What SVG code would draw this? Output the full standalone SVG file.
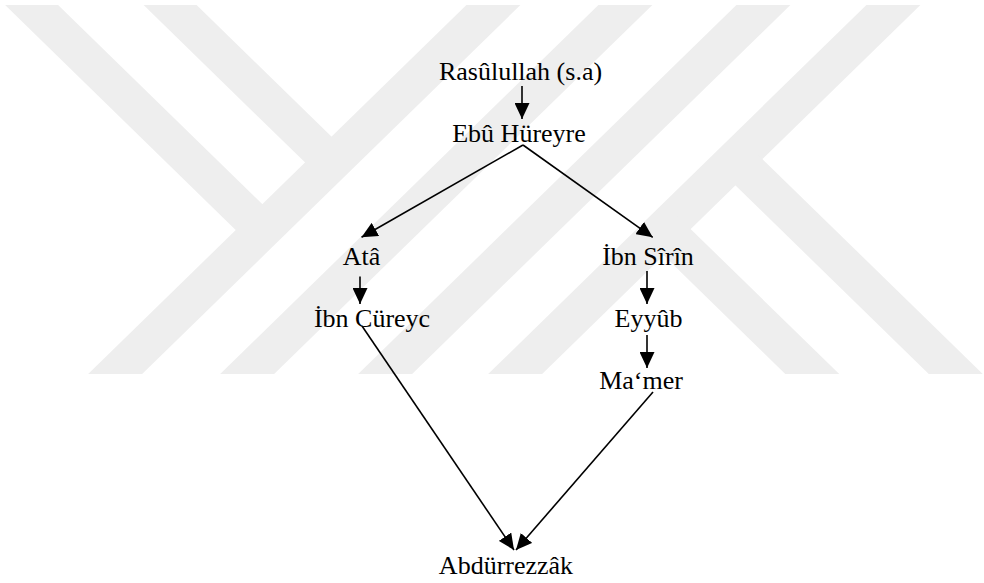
<svg xmlns="http://www.w3.org/2000/svg" width="984" height="583" viewBox="0 0 984 583">
  <style>
    .wm { fill: #eeeeee; stroke: none; }
    .lbl { font-family: "Liberation Serif", "Times New Roman", serif; font-size: 26px; fill: #000; text-anchor: middle; }
    .edge { stroke: #000; stroke-width: 1.6; fill: none; marker-end: url(#arrow); }
  </style>
  <defs>
    <marker id="arrow" markerUnits="userSpaceOnUse" markerWidth="16" markerHeight="15" viewBox="0 0 16 15" refX="16" refY="7.5" orient="auto">
      <path d="M0,0 L16,7.5 L0,15 z" fill="#000"/>
    </marker>
  </defs>
  <rect width="984" height="583" fill="#ffffff"/>
  <g id="watermark">
    <polygon class="wm" points="466.4,5 520.4,5 142.15,374 88.15,374"/>
    <polygon class="wm" points="598.4,5 652.4,5 274.15,374 220.15,374"/>
    <polygon class="wm" points="736.4,5 790.4,5 412.15,374 358.15,374"/>
    <polygon class="wm" points="866.4,5 920.4,5 542.15,374 488.15,374"/>
    <polygon class="wm" points="5.1,5 58.1,5 275.75,217.3 249.25,243.2"/>
    <polygon class="wm" points="143.6,5 196.6,5 345,149.8 318.5,175.6"/>
    <polygon class="wm" points="677.2,215.9 839.25,374 785.25,374 650.2,242.2"/>
    <polygon class="wm" points="748.95,145.9 982.75,374 928.75,374 721.95,172.2"/>
  </g>
  <g id="connectors">
    <line class="edge" x1="522" y1="86" x2="522" y2="119"/>
    <line class="edge" x1="523" y1="145" x2="361.5" y2="237.3"/>
    <line class="edge" x1="523" y1="145" x2="652.7" y2="237.3"/>
    <line class="edge" x1="360" y1="276.5" x2="360" y2="304"/>
    <line class="edge" x1="647" y1="271" x2="647" y2="304"/>
    <line class="edge" x1="647" y1="335" x2="647" y2="368"/>
    <line class="edge" x1="362" y1="326" x2="514" y2="550"/>
    <line class="edge" x1="653" y1="392" x2="516" y2="550"/>
  </g>
  <g id="n-rasulullah"><text class="lbl" x="520.5" y="80">Rasûlullah (s.a)</text></g>
  <g id="n-ebu-hureyre"><text class="lbl" x="519" y="142">Ebû Hüreyre</text></g>
  <g id="n-ata"><text class="lbl" x="361.5" y="265">Atâ</text></g>
  <g id="n-ibn-sirin"><text class="lbl" x="648" y="265">İbn Sîrîn</text></g>
  <g id="n-ibn-cureyc"><text class="lbl" x="372" y="327">İbn Cüreyc</text></g>
  <g id="n-eyyub"><text class="lbl" x="648.5" y="327">Eyyûb</text></g>
  <g id="n-mamer"><text class="lbl" x="641" y="389">Ma‘mer</text></g>
  <g id="n-abdurrezzak"><text class="lbl" x="506" y="574">Abdürrezzâk</text></g>
</svg>
